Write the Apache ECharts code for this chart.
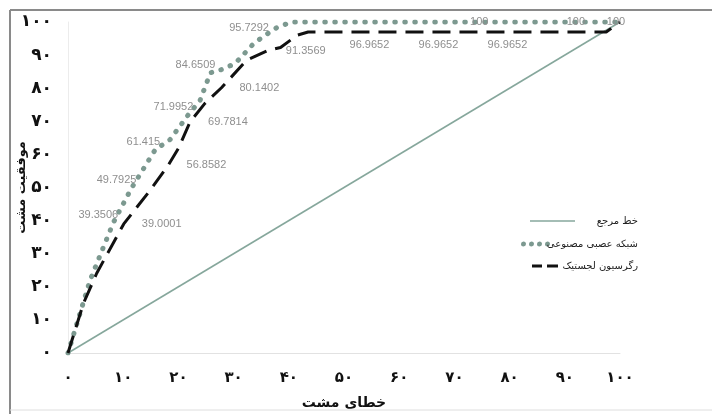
<!DOCTYPE html>
<html>
<head>
<meta charset="utf-8">
<script src="https://cdn.jsdelivr.net/npm/echarts@6/dist/echarts.min.js"></script>
<style>
  html, body { margin: 0; padding: 0; background: #fff; }
  #chart { width: 712px; height: 414px; }
</style>
</head>
<body>
<div id="chart"></div>
<script>
// tick labels (Persian digits)
var xTicks = ['۰', '۱۰', '۲۰', '۳۰', '۴۰', '۵۰', '۶۰', '۷۰', '۸۰', '۹۰', '۱۰۰'];
var yTicks = ['۰', '۱۰', '۲۰', '۳۰', '۴۰', '۵۰', '۶۰', '۷۰', '۸۰', '۹۰', '۱۰۰'];

var seriesNames = ['خط مرجع', 'شبکه عصبی مصنوعی', 'رگرسیون لجستیک'];

// reference line
var refX = [0, 100];
var refY = [0, 100];

// neural network curve
var annX = [0, 4, 8.2, 11.5, 15.8, 18.5, 21.8, 23.9, 25.8, 28, 30.3, 33.7, 35.5, 37.8, 40.5, 74.5, 92, 100];
var annY = [0, 22, 39.3506, 49.7925, 61.415, 64.5, 71.9952, 76.2, 84.6509, 85.7, 87.5, 93.6, 95.7292, 98.3, 100, 100, 100, 100];
var annLabelIdx = [2, 3, 4, 6, 8, 12, 15, 16];

// logistic regression curve
var logX = [0, 2.8, 5.2, 10.1, 14.9, 18.2, 20, 22.1, 24.8, 27.8, 32.4, 36.2, 38.5, 41.5, 43.5, 51, 63.5, 76, 97.5, 100];
var logY = [0, 15, 24.1, 39.0001, 49.2, 56.8582, 61.8, 69.7814, 75.4, 80.1402, 88.5, 91.3569, 92.3, 96, 96.9652, 96.9652, 96.9652, 96.9652, 96.9652, 100];
var logLabelIdx = [3, 5, 7, 9, 11, 15, 16, 17, 19];

function build(xs, ys, labelIdx) {
  return xs.map(function (x, i) {
    return { value: [x, ys[i]], showLabel: labelIdx ? labelIdx.indexOf(i) !== -1 : false };
  });
}

var chart = echarts.init(document.getElementById('chart'));

var labelColor = '#8f8f8f';
var labelFont = 'Liberation Sans, Arial, sans-serif';

var annData = build(annX, annY, annLabelIdx).map(function (d) {
  var lbl = { show: d.showLabel };
  if (d.value[1] >= 100) {
    lbl.position = 'top';
    lbl.distance = 0;
    lbl.offset = [0, 6];
  }
  return { value: d.value, label: lbl };
});

var logData = build(logX, logY, logLabelIdx).map(function (d) {
  var lbl = { show: d.showLabel };
  if (d.value[1] >= 100) {
    lbl.position = 'top';
    lbl.distance = 0;
    lbl.offset = [-4, 6];
  } else if (d.value[1] > 96) {
    lbl.position = 'right';
    lbl.distance = 0;
    lbl.offset = [0, 13];
  }
  return { value: d.value, label: lbl };
});

var legendText = function (w) {
  return { rich: { t: { width: w, align: 'right', fontSize: 10, color: '#222', fontFamily: 'DejaVu Sans' } } };
};

// legend samples drawn as small paths
var iconSolid = 'path://M0,0L45,0L45,1.6L0,1.6Z';
var iconDots = 'path://M2.5,0A2.5,2.5,0,1,1,2.49,0ZM10.5,0A2.5,2.5,0,1,1,10.49,0ZM18.5,0A2.5,2.5,0,1,1,18.49,0ZM26.5,0A2.5,2.5,0,1,1,26.49,0Z';
var iconDash = 'path://M0,0L10,0L10,3L0,3ZM15,0L26,0L26,3L15,3Z';

var option = {
  backgroundColor: '#fff',
  animation: false,
  grid: { left: 68, right: 92, top: 22, bottom: 61, outerBoundsMode: 'none', containLabel: false },
  xAxis: {
    type: 'value',
    min: 0,
    max: 100,
    interval: 10,
    name: 'خطای مشت',
    nameLocation: 'middle',
    nameGap: 43,
    nameMoveOverlap: false,
    nameTextStyle: { color: '#111', fontSize: 14, fontWeight: 'bold', fontFamily: 'DejaVu Sans' },
    axisLine: { show: true, lineStyle: { color: '#e2e2e2', width: 1 } },
    axisTick: { show: false },
    splitLine: { show: false },
    axisLabel: {
      margin: 18,
      color: '#111',
      fontSize: 15,
      fontWeight: 'bold',
      fontFamily: 'DejaVu Sans',
      formatter: function (v) { return xTicks[Math.round(v / 10)]; }
    }
  },
  yAxis: {
    type: 'value',
    min: 0,
    max: 100,
    interval: 10,
    name: 'موفقیت مشت',
    nameLocation: 'middle',
    nameGap: 40,
    nameMoveOverlap: false,
    nameRotate: 90,
    nameTextStyle: { color: '#111', fontSize: 13, fontWeight: 'bold', fontFamily: 'DejaVu Sans' },
    axisLine: { show: true, lineStyle: { color: '#ececec', width: 1 } },
    axisTick: { show: false },
    splitLine: { show: false },
    axisLabel: {
      margin: 16,
      color: '#111',
      fontSize: 17,
      fontWeight: 'bold',
      fontFamily: 'DejaVu Sans',
      formatter: function (v) { return yTicks[Math.round(v / 10)]; }
    }
  },
  legend: [
    {
      data: [{ name: seriesNames[0], icon: iconSolid }],
      left: 525, top: 211,
      itemWidth: 45, itemHeight: 1.6,
      formatter: '{t|{name}}',
      textStyle: legendText(58)
    },
    {
      data: [{ name: seriesNames[1], icon: iconDots }],
      left: 516, top: 234,
      itemWidth: 29, itemHeight: 5,
      formatter: '{t|{name}}',
      textStyle: legendText(83)
    },
    {
      data: [{ name: seriesNames[2], icon: iconDash }],
      left: 527, top: 256,
      itemWidth: 26, itemHeight: 3,
      formatter: '{t|{name}}',
      textStyle: legendText(75)
    }
  ],
  graphic: [
    { type: 'line', shape: { x1: 10, y1: 10, x2: 712, y2: 10 }, style: { stroke: '#8a8a8a', lineWidth: 2 } },
    { type: 'line', shape: { x1: 10, y1: 10, x2: 10, y2: 414 }, style: { stroke: '#8a8a8a', lineWidth: 2 } },
    { type: 'line', shape: { x1: 10, y1: 410, x2: 712, y2: 410 }, style: { stroke: '#dedede', lineWidth: 1 } }
  ],
  series: [
    {
      name: seriesNames[0],
      type: 'line',
      symbol: 'none',
      data: build(refX, refY).map(function (d) { return d.value; }),
      lineStyle: { color: '#86a79c', width: 1.6 },
      itemStyle: { color: '#86a79c' },
      z: 2
    },
    {
      name: seriesNames[1],
      type: 'line',
      symbol: 'circle',
      symbolSize: 0.1,
      showSymbol: true,
      data: annData,
      lineStyle: { color: '#7c9990', width: 5, type: [0.5, 9.5], cap: 'round' },
      itemStyle: { color: '#7c9990' },
      label: {
        position: 'left',
        distance: 4,
        offset: [9, -8],
        color: labelColor,
        fontSize: 11,
        fontFamily: labelFont,
        formatter: function (p) { return p.value[1]; }
      },
      z: 3
    },
    {
      name: seriesNames[2],
      type: 'line',
      symbol: 'circle',
      symbolSize: 0.1,
      showSymbol: true,
      data: logData,
      lineStyle: { color: '#111', width: 3, type: [18, 9] },
      itemStyle: { color: '#111' },
      label: {
        position: 'right',
        distance: 18,
        color: labelColor,
        fontSize: 11,
        fontFamily: labelFont,
        formatter: function (p) { return p.value[1]; }
      },
      z: 4
    }
  ]
};

chart.setOption(option);
</script>
</body>
</html>
